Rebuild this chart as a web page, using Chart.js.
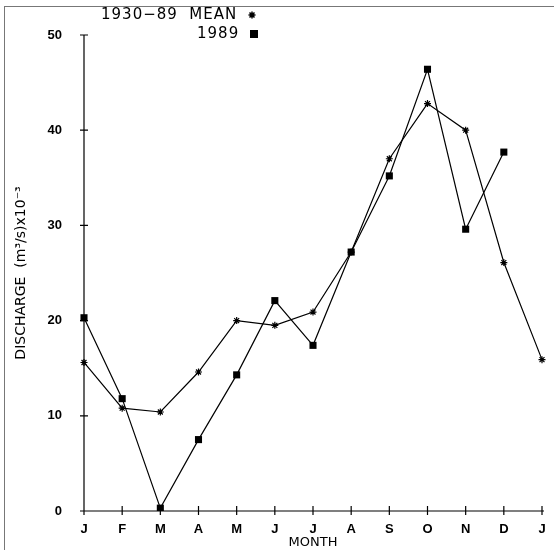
<!DOCTYPE html>
<html>
<head>
<meta charset="utf-8">
<script src="https://cdn.jsdelivr.net/npm/chart.js@4.4.1/dist/chart.umd.min.js"></script>
<style>
  html, body { margin: 0; padding: 0; background: #fff; }
  #wrap { position: relative; width: 554px; height: 550px; }
  #frame { position: absolute; left: 4px; top: 6px; right: 0; bottom: 0;
           border-top: 1px solid #777; border-left: 1px solid #777; pointer-events: none; }
</style>
</head>
<body>
<div id="wrap">
  <canvas id="dischargeChart" width="554" height="550"></canvas>
  <div id="frame"></div>
</div>
<script>
const months = ['J', 'F', 'M', 'A', 'M', 'J', 'J', 'A', 'S', 'O', 'N', 'D', 'J'];
const meanValues = [15.6, 10.8, 10.4, 14.6, 20.0, 19.5, 20.9, 27.2, 37.0, 42.8, 40.0, 26.1, 15.9]; // 1930-89 mean
const values1989 = [20.3, 11.8, 0.3, 7.5, 14.3, 22.1, 17.4, 27.2, 35.2, 46.4, 29.6, 37.7, null];
const yTicks = [0, 10, 20, 30, 40, 50];

const font = "'Liberation Sans', Arial, sans-serif";
const wideFont = "'DejaVu Sans', sans-serif";

// axis lines with ticks crossing them, like the plotter output
const axesPlugin = {
    id: 'axes',
    afterDraw(chart) {
        const c = chart.ctx;
        const x = chart.scales.x, y = chart.scales.y;
        const x0 = x.getPixelForValue(0), x1 = x.getPixelForValue(months.length - 1);
        const y0 = y.getPixelForValue(0), y1 = y.getPixelForValue(50);
        c.save();
        c.strokeStyle = '#000';
        c.lineWidth = 1.2;
        c.beginPath();
        c.moveTo(x0, y1);
        c.lineTo(x0, y0 + 4);
        c.moveTo(x0 - 4, y0);
        c.lineTo(x1 + 2, y0);
        yTicks.forEach(v => {
            const p = y.getPixelForValue(v);
            c.moveTo(x0 - 4, p);
            c.lineTo(x0 + 4, p);
        });
        months.forEach((m, i) => {
            const p = x.getPixelForValue(i);
            c.moveTo(p, y0 - 5);
            c.lineTo(p, y0 + 4);
        });
        c.stroke();

        // legend
        c.fillStyle = '#000';
        c.font = '15px ' + wideFont;
        c.letterSpacing = '1px';
        c.textBaseline = 'middle';
        c.textAlign = 'left';
        c.fillText('1930\u221289  MEAN', 101, 15);
        c.fillText('1989', 197, 34);
        c.letterSpacing = '0px';
        c.lineWidth = 1.5;
        c.beginPath();
        const sx = 252, sy = 15, r = 3.5;
        c.moveTo(sx - r, sy); c.lineTo(sx + r, sy);
        c.moveTo(sx, sy - r); c.lineTo(sx, sy + r);
        c.moveTo(sx - 2.5, sy - 2.5); c.lineTo(sx + 2.5, sy + 2.5);
        c.moveTo(sx - 2.5, sy + 2.5); c.lineTo(sx + 2.5, sy - 2.5);
        c.stroke();
        c.fillRect(250, 30, 8, 8);
        c.restore();
    }
};

new Chart(document.getElementById('dischargeChart').getContext('2d'), {
    type: 'line',
    data: {
        labels: months,
        datasets: [
            {
                label: '1930-89 MEAN',
                data: meanValues,
                borderColor: '#000',
                borderWidth: 1.2,
                pointStyle: 'star',
                pointRadius: 3.5,
                pointBorderColor: '#000',
                pointBorderWidth: 1.2,
                tension: 0
            },
            {
                label: '1989',
                data: values1989,
                borderColor: '#000',
                borderWidth: 1.2,
                pointStyle: 'rect',
                pointRadius: 5,
                pointBackgroundColor: '#000',
                pointBorderColor: '#000',
                pointBorderWidth: 0,
                tension: 0,
                spanGaps: false
            }
        ]
    },
    options: {
        responsive: false,
        animation: false,
        layout: { padding: { left: 0, right: 12, top: 35, bottom: 0 } },
        plugins: {
            legend: { display: false },
            tooltip: { enabled: false }
        },
        scales: {
            x: {
                offset: false,
                grid: { display: false },
                border: { display: false },
                ticks: { color: '#000', font: { family: font, size: 13, weight: 'bold' }, padding: 3, autoSkip: false, maxRotation: 0 },
                title: { display: true, text: 'MONTH', color: '#000', font: { family: wideFont, size: 13 }, padding: { top: 3, bottom: 0 } },
                afterFit(s) { s.height = 39; }
            },
            y: {
                min: 0,
                max: 50,
                grid: { display: false },
                border: { display: false },
                ticks: { stepSize: 10, color: '#000', font: { family: font, size: 13, weight: 'bold' }, padding: 14 },
                title: { display: true, text: 'DISCHARGE  (m\u00B3/s)x10\u207B\u00B3', color: '#000', font: { family: wideFont, size: 14 }, padding: { top: 13, bottom: 0 } },
                afterFit(s) { s.width = 84; }
            }
        }
    },
    plugins: [axesPlugin]
});
</script>
</body>
</html>
